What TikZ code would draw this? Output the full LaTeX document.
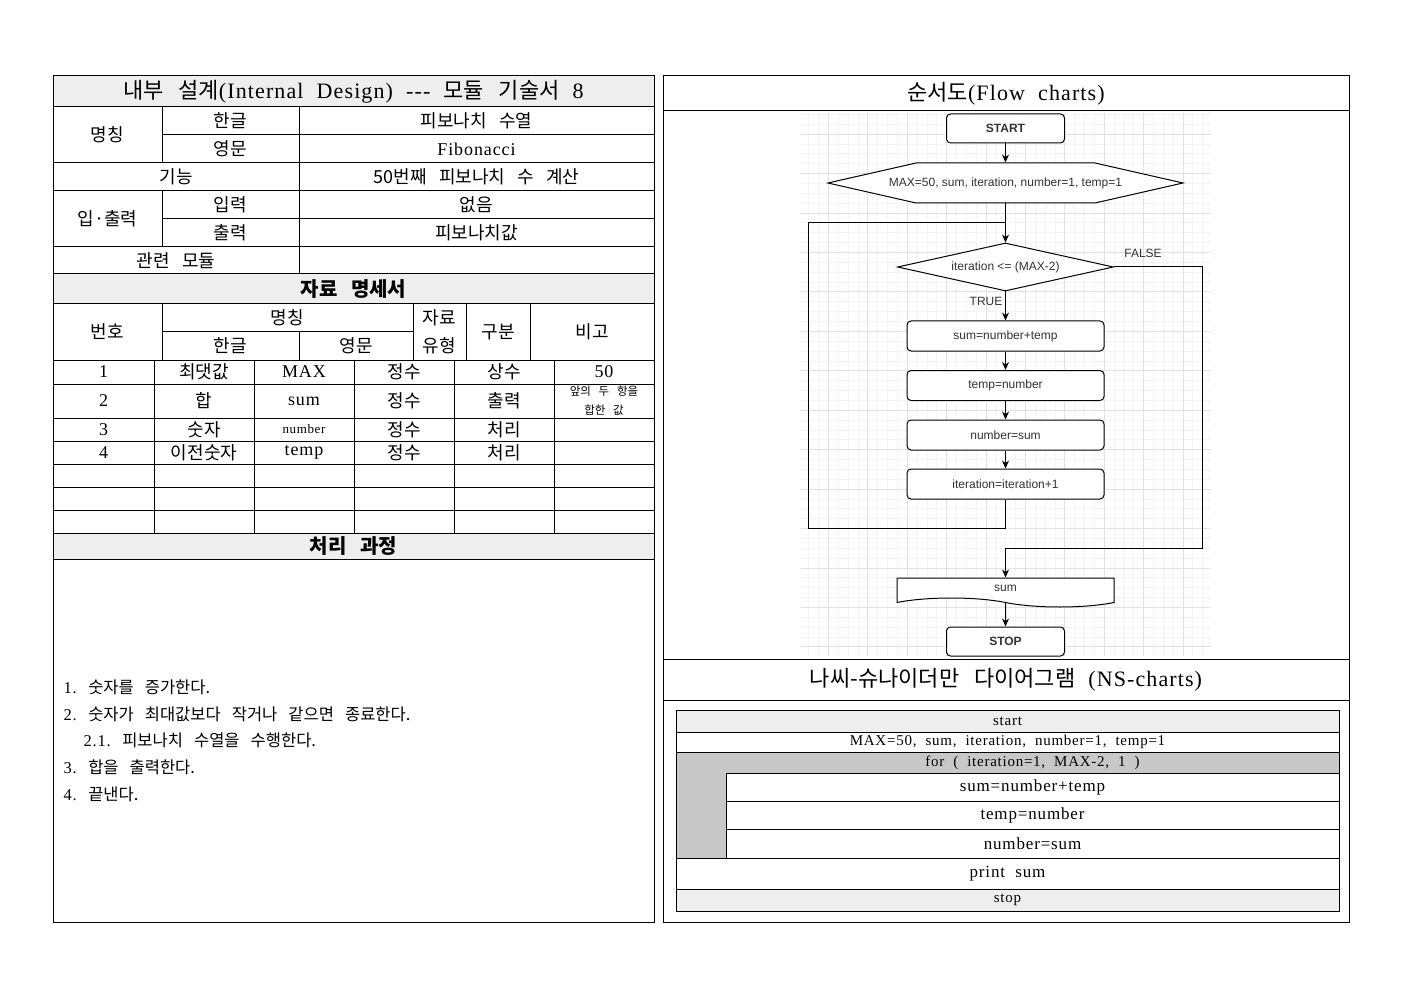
\documentclass[tikz,border=0pt]{standalone}
\usepackage{fontspec}
\setmainfont[LetterSpace=5,WordSpace=2]{Liberation Serif}
\newfontfamily\krfont[WordSpace=3]{Noto Sans CJK KR}
\newfontfamily\flowfont{Liberation Sans}
\newcommand\ko[1]{{\krfont #1}}
\usetikzlibrary{arrows.meta,shapes.geometric,shapes.symbols}
\definecolor{headgray}{RGB}{238,238,238}
\definecolor{forgray}{RGB}{200,200,200}
\definecolor{gridminor}{RGB}{243,243,243}
\definecolor{gridmajor}{RGB}{226,226,226}
\definecolor{flowtext}{RGB}{51,51,51}

\begin{document}
\begin{tikzpicture}[x=1pt,y=-1pt,line width=1pt,
  cell/.style={font=\fontsize{18}{21}\selectfont,inner sep=0pt},
  tiny/.style={font=\fontsize{11.5}{19}\selectfont,inner sep=0pt,align=center},
  bighead/.style={font=\fontsize{22}{26}\selectfont,inner sep=0pt},
  bandhead/.style={font=\fontsize{20}{24}\selectfont\bfseries,inner sep=0pt},
  proc/.style={font=\fontsize{16.5}{19}\selectfont,inner sep=0pt,anchor=west},
  nsrow/.style={font=\fontsize{15}{18}\selectfont,inner sep=0pt},
  nsbig/.style={font=\fontsize{17}{20}\selectfont,inner sep=0pt},
  fl/.style={font=\flowfont\fontsize{12}{14}\selectfont,text=flowtext},
  fbox/.style={fl,draw,fill=white,rounded corners=4pt,inner sep=0pt,minimum width=197pt,minimum height=30pt},
  tbox/.style={fbox,font=\flowfont\fontsize{12}{14}\selectfont\bfseries,minimum width=118pt,minimum height=29pt},
  arr/.style={-{Stealth[length=8pt,width=7pt]}},
]
\useasboundingbox (0,0) rectangle (1403,992);
% left sheet
\fill[headgray] (53,76) rectangle (654,107);
\fill[headgray] (53,274) rectangle (654,304);
\fill[headgray] (53,533) rectangle (654,559);
\draw (53,76) rectangle (654,922);
\foreach \y in {107,163,191,247,274,304,360,384,418,441,464,487,510,533,559}{\draw (53,\y) -- (654,\y);}
\draw (162,135) -- (654,135);
\draw (162,219) -- (654,219);
\draw (162,107) -- (162,163);
\draw (162,191) -- (162,247);
\draw (299,107) -- (299,274);
\draw (162,332) -- (413,332);
\foreach \x in {162,413,466,530}{\draw (\x,304) -- (\x,360);}
\draw (299,332) -- (299,360);
\foreach \x in {154,254,354,454,554}{\draw (\x,360) -- (\x,533);}
\node[bighead] (title) at (353.5,91.5) {\ko{내부 설계}(Internal Design) -{}-{}- \ko{모듈 기술서} 8};
\node[cell] (name) at (107.5,135) {\ko{명칭}};
\node[cell] (namek) at (230.5,121) {\ko{한글}};
\node[cell] (namekv) at (476.5,121) {\ko{피보나치 수열}};
\node[cell] (namee) at (230.5,149) {\ko{영문}};
\node[cell] (nameev) at (476.5,149) {Fibonacci};
\node[cell] (func) at (176,177) {\ko{기능}};
\node[cell] (funcv) at (476.5,177) {\ko{50번째 피보나치 수 계산}};
\node[cell] (io) at (107.5,219) {\ko{입·출력}};
\node[cell] (in) at (230.5,205) {\ko{입력}};
\node[cell] (inv) at (476.5,205) {\ko{없음}};
\node[cell] (out) at (230.5,233) {\ko{출력}};
\node[cell] (outv) at (476.5,233) {\ko{피보나치값}};
\node[cell] (rel) at (176,260.5) {\ko{관련 모듈}};
\node[bandhead] (spec) at (353.5,289) {\ko{자료 명세서}};
\node[cell] (hno) at (107.5,332) {\ko{번호}};
\node[cell] (hname) at (287.5,318) {\ko{명칭}};
\node[cell] (hk) at (230.5,346) {\ko{한글}};
\node[cell] (he) at (356,346) {\ko{영문}};
\node[cell] (htype) at (439.5,318) {\ko{자료}};
\node[cell] (htype2) at (439.5,346) {\ko{유형}};
\node[cell] (hkind) at (498,332) {\ko{구분}};
\node[cell] (hnote) at (592,332) {\ko{비고}};
\node[cell] (r1a) at (103.5,372) {1};
\node[cell] (r1b) at (204,372) {\ko{최댓값}};
\node[cell] (r1c) at (304,372) {MAX};
\node[cell] (r1d) at (404,372) {\ko{정수}};
\node[cell] (r1e) at (504,372) {\ko{상수}};
\node[cell] (r1f) at (604,372) {50};
\node[cell] (r2a) at (103.5,401) {2};
\node[cell] (r2b) at (204,401) {\ko{합}};
\node[cell] (r2c) at (304,401) {sum};
\node[cell] (r2d) at (404,401) {\ko{정수}};
\node[cell] (r2e) at (504,401) {\ko{출력}};
\node[tiny] (r2f) at (604,401) {\ko{앞의 두 항을}\\\ko{합한 값}};
\node[cell] (r3a) at (103.5,429.5) {3};
\node[cell] (r3b) at (204,429.5) {\ko{숫자}};
\node[cell,font=\fontsize{13}{15}\selectfont] (r3c) at (304,429.5) {number};
\node[cell] (r3d) at (404,429.5) {\ko{정수}};
\node[cell] (r3e) at (504,429.5) {\ko{처리}};
\node[cell] (r4a) at (103.5,452.5) {4};
\node[cell] (r4b) at (204,452.5) {\ko{이전숫자}};
\node[cell] (r4c) at (304,452.5) {temp};
\node[cell] (r4d) at (404,452.5) {\ko{정수}};
\node[cell] (r4e) at (504,452.5) {\ko{처리}};
\node[bandhead] (steps) at (353.5,546) {\ko{처리 과정}};
\node[proc] (s1) at (63,687) {1. \ko{숫자를 증가한다.}};
\node[proc] (s2) at (63,714) {2. \ko{숫자가 최대값보다 작거나 같으면 종료한다.}};
\node[proc] (s21) at (83,740.5) {2.1. \ko{피보나치 수열을 수행한다.}};
\node[proc] (s3) at (63,767) {3. \ko{합을 출력한다.}};
\node[proc] (s4) at (63,794) {4. \ko{끝낸다.}};
% right sheet
\draw (663,76) rectangle (1349,922);
\draw (663,111) -- (1349,111);
\draw (663,659) -- (1349,659);
\draw (663,700) -- (1349,700);
\node[bighead] (fctitle) at (1006,93.5) {\ko{순서도}(Flow charts)};
\node[bighead] (nstitle) at (1006,679.5) {\ko{나씨-슈나이더만 다이어그램} (NS-charts)};
\foreach \i in {0,...,40}{\draw[gridminor,line width=0.6pt] ({808.6+\i*9.85},113) -- ({808.6+\i*9.85},656);}
\foreach \i in {0,...,54}{\draw[gridminor,line width=0.6pt] (801,{114.3+\i*9.86}) -- (1211,{114.3+\i*9.86});}
\foreach \i in {2,6,...,38}{\draw[gridmajor,line width=0.6pt] ({808.6+\i*9.85},113) -- ({808.6+\i*9.85},656);}
\foreach \i in {2,6,...,54}{\draw[gridmajor,line width=0.6pt] (801,{114.3+\i*9.86}) -- (1211,{114.3+\i*9.86});}
\node[tbox] (start) at (1005.5,128.5) {START};
\filldraw[fill=white] (828,183) -- (916,163) -- (1095,163) -- (1183,183) -- (1095,203) -- (916,203) -- cycle;
\node[fl,inner sep=0pt,minimum width=355pt,minimum height=40pt] (init) at (1005.5,183) {MAX=50, sum, iteration, number=1, temp=1};
\node[fl,diamond,draw,fill=white,inner sep=0pt,aspect=4.5,minimum width=216pt,minimum height=48pt] (cond) at (1005.5,267) {iteration <= (MAX-2)};
\node[fbox] (sumn) at (1005.5,336) {sum=number+temp};
\node[fbox] (tempn) at (1005.5,385.5) {temp=number};
\node[fbox] (numn) at (1005.5,435) {number=sum};
\node[fbox] (iter) at (1005.5,484) {iteration=iteration+1};
\node[fl,tape,tape bend top=none,tape bend bottom=out and in,tape bend height=9pt,draw,fill=white,inner sep=0pt,minimum width=217pt,minimum height=29pt] (show) at (1005.5,588) {sum};
\node[tbox] (stop) at (1005.5,641.5) {STOP};
\node[fl] (tlab) at (986,301) {TRUE};
\node[fl] (flab) at (1143,253) {FALSE};
\coordinate (join) at (1005.5,223);
\coordinate (back) at (808,528);
\coordinate (exit) at (1202,548);
\draw[arr] (start) -- (init);
\draw[arr] (init) -- (cond);
\draw[arr] (cond) -- (sumn);
\draw[arr] (sumn) -- (tempn);
\draw[arr] (tempn) -- (numn);
\draw[arr] (numn) -- (iter);
\draw (iter.south) |- (back) |- (join);
\draw[arr] (cond.east) -| (exit) -| (show.north);
\draw[arr] (show) -- (stop);
% NS chart
\fill[headgray] (676,710) rectangle (1339,732);
\fill[forgray] (676,752) rectangle (1339,773);
\fill[forgray] (676,773) rectangle (726,858);
\fill[headgray] (676,889) rectangle (1339,911);
\draw (676,710) rectangle (1339,911);
\foreach \y in {732,752,858,889}{\draw (676,\y) -- (1339,\y);}
\foreach \y in {773,801,829}{\draw (726,\y) -- (1339,\y);}
\draw (726,773) -- (726,858);
\node[nsrow] (nsstart) at (1007.5,721) {start};
\node[nsrow] (nsinit) at (1007.5,742) {MAX=50, sum, iteration, number=1, temp=1};
\node[nsrow] (nsfor) at (1032.5,762.5) {for ( iteration=1, MAX-2, 1 )};
\node[nsbig] (nssum) at (1032.5,787) {sum=number+temp};
\node[nsbig] (nstemp) at (1032.5,815) {temp=number};
\node[nsbig] (nsnum) at (1032.5,843.5) {number=sum};
\node[nsbig] (nsprint) at (1007.5,873.5) {print sum};
\node[nsrow] (nsstop) at (1007.5,900) {stop};
\end{tikzpicture}
\end{document}
